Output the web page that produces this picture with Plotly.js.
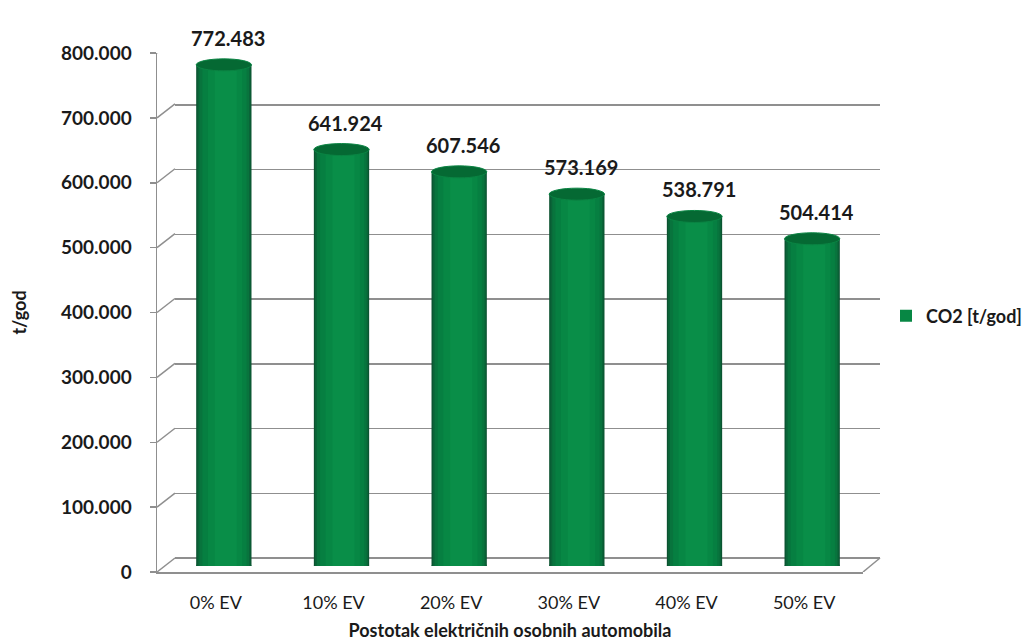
<!DOCTYPE html>
<html>
<head>
<meta charset="utf-8">
<script src="https://cdn.plot.ly/plotly-3.0.1.min.js"></script>
<style>html,body{margin:0;padding:0;background:#fff;}#chart{width:1031px;height:641px;}</style>
</head>
<body>
<div id="chart"></div>
<script>
// ---- data ----
const categories = ['0% EV', '10% EV', '20% EV', '30% EV', '40% EV', '50% EV'];
const co2Values = [772483, 641924, 607546, 573169, 538791, 504414];
const yTickValues = [0, 100000, 200000, 300000, 400000, 500000, 600000, 700000, 800000];
const seriesName = 'CO2 [t/god]';
const xTitle = 'Postotak električnih osobnih automobila';
const yTitle = 't/god';

// ---- style ----
const FONT = 'Lato, "Open Sans", sans-serif';
const GRID = '#8f8f8f';
const BAR_W = 0.47;              // bar width in category units
const HL = 0.56;                 // highlight position across the cylinder
const layers = [
  {f: 1.00, c: '#0b5230'},
  {f: 0.96, c: '#0a6438'},
  {f: 0.90, c: '#08743d'},
  {f: 0.80, c: '#067f41'},
  {f: 0.62, c: '#078744'},
  {f: 0.40, c: '#098e48'}
];

function fmt(v) {
  return String(Math.round(v)).replace(/\B(?=(\d{3})+(?!\d))/g, '.');
}

const traces = [];
// front subplot (axis labels)
traces.push({type: 'scatter', x: categories, y: categories.map(() => null),
  xaxis: 'x', yaxis: 'y', showlegend: false, hoverinfo: 'skip', mode: 'markers'});
// back-wall subplot (gridlines only)
traces.push({type: 'scatter', x: categories, y: categories.map(() => null),
  xaxis: 'x2', yaxis: 'y2', showlegend: false, hoverinfo: 'skip', mode: 'markers'});

const centerShift = -BAR_W / 2 + HL * BAR_W;
layers.forEach((L, k) => {
  traces.push({
    type: 'bar', x: categories, y: co2Values, xaxis: 'x3', yaxis: 'y3',
    width: L.f * BAR_W,
    offset: centerShift - HL * L.f * BAR_W,
    marker: {color: L.c, line: {width: 0}},
    name: seriesName,
    showlegend: k === 4,
    hoverinfo: 'skip'
  });
});

const shapes = [];
// diagonal connectors at each tick (front axis -> back wall)
yTickValues.forEach(t => {
  shapes.push({type: 'line', xref: 'paper', xsizemode: 'pixel', xanchor: 0, x0: 0, x1: 18,
    yref: 'y', ysizemode: 'pixel', yanchor: t, y0: 0, y1: 14,
    line: {color: GRID, width: 1.5}, layer: 'above'});
});
// right floor edge
shapes.push({type: 'line', xref: 'paper', xsizemode: 'pixel', xanchor: 706 / 723, x0: 0, x1: 17,
  yref: 'y', ysizemode: 'pixel', yanchor: 0, y0: 0, y1: 14,
  line: {color: GRID, width: 1.5}});
// cylinder bottoms and tops
co2Values.forEach((v, i) => {
  shapes.push({type: 'circle', xref: 'x3', yref: 'y3', x0: i - BAR_W / 2, x1: i + BAR_W / 2,
    ysizemode: 'pixel', yanchor: 0, y0: -7, y1: 7,
    fillcolor: '#077a3e', line: {width: 0}, layer: 'below'});
  shapes.push({type: 'circle', xref: 'x3', yref: 'y3', x0: i - BAR_W / 2, x1: i + BAR_W / 2,
    ysizemode: 'pixel', yanchor: v, y0: -6, y1: 6,
    fillcolor: '#056933', line: {width: 1, color: '#0a8443'}, layer: 'above'});
});

const annotations = co2Values.map((v, i) => ({
  xref: 'x3', yref: 'y3', x: i, y: v, text: fmt(v), showarrow: false,
  yanchor: 'middle', yshift: 27, xshift: 4,
  font: {family: FONT, size: 20, color: '#1a1a1a', weight: 700}
}));

const layout = {
  width: 1031, height: 641,
  margin: {l: 157, r: 151, t: 40, b: 69},
  paper_bgcolor: '#ffffff', plot_bgcolor: 'rgba(0,0,0,0)',
  separators: ',.',
  barmode: 'overlay',
  font: {family: FONT, color: '#1a1a1a'},
  xaxis: {
    type: 'category', categoryarray: categories, domain: [0, 706 / 723], anchor: 'y',
    range: [-0.5, 5.5], showgrid: false, zeroline: false, showline: true,
    linecolor: GRID, linewidth: 1.5, ticks: '', ticklabelstandoff: 14,
    tickfont: {family: FONT, size: 18, color: '#1a1a1a'},
    title: {text: xTitle, standoff: 14, font: {family: FONT, size: 18, weight: 700, color: '#1a1a1a'}},
    fixedrange: true
  },
  yaxis: {
    domain: [0, 519 / 532], anchor: 'x', range: [0, 800000],
    tickvals: yTickValues, ticktext: yTickValues.map(fmt),
    showgrid: false, zeroline: false, showline: true, linecolor: GRID, linewidth: 1.5,
    ticks: 'outside', ticklen: 6, tickcolor: GRID, tickwidth: 1.5, ticklabelstandoff: 14,
    tickfont: {family: FONT, size: 19, weight: 700, color: '#1a1a1a'},
    title: {text: yTitle, standoff: 30, font: {family: FONT, size: 18, weight: 700, color: '#1a1a1a'}},
    fixedrange: true
  },
  xaxis2: {
    type: 'category', domain: [18 / 723, 1], anchor: 'y2', range: [-0.5, 5.5],
    showgrid: false, zeroline: false, showline: false, showticklabels: false, ticks: '', fixedrange: true
  },
  yaxis2: {
    domain: [14 / 532, 1], anchor: 'x2', range: [0, 800000],
    tickvals: yTickValues, showgrid: true, gridcolor: GRID, gridwidth: 1.5,
    zeroline: true, zerolinecolor: GRID, zerolinewidth: 1.5,
    showline: false, showticklabels: false, ticks: '', fixedrange: true
  },
  xaxis3: {
    type: 'category', categoryarray: categories, domain: [8 / 723, 714 / 723], anchor: 'y3',
    range: [-0.5, 5.5],
    showgrid: false, zeroline: false, showline: false, showticklabels: false, ticks: '', fixedrange: true
  },
  yaxis3: {
    domain: [6 / 532, 525 / 532], anchor: 'x3', range: [0, 800000],
    showgrid: false, zeroline: false, showline: false, showticklabels: false, ticks: '', fixedrange: true
  },
  legend: {
    xref: 'container', yref: 'container',
    x: 886 / 1031, xanchor: 'left', y: 0.507, yanchor: 'middle',
    font: {family: FONT, size: 18, weight: 700, color: '#1a1a1a'},
    bgcolor: 'rgba(0,0,0,0)', itemclick: false, itemdoubleclick: false
  },
  shapes: shapes,
  annotations: annotations,
  showlegend: true
};

Plotly.newPlot('chart', traces, layout, {displayModeBar: false, staticPlot: true});
</script>
</body>
</html>
